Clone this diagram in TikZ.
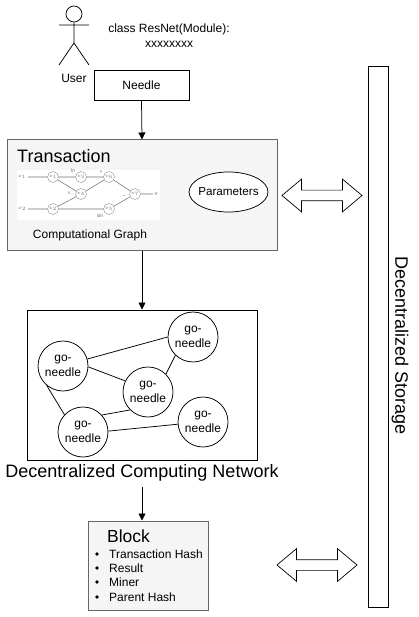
\documentclass[tikz,border=0pt]{standalone}
\usepackage{fontspec}
\setmainfont{Liberation Sans}
\usetikzlibrary{shapes.geometric,shapes.arrows,arrows.meta}
\tikzset{
 line/.style={draw=black,line width=0.75pt},
 flow/.style={line,-{Triangle[length=7pt,width=7pt]}},
 peer/.style={circle,draw=black,line width=0.75pt,minimum size=50pt,inner sep=0pt,align=center,font=\fontsize{12}{14.5}\selectfont},
 lab/.style={inner sep=0pt,align=center,font=\fontsize{12}{14.5}\selectfont},
 grey/.style={draw=black!60,fill=black!4,line width=1pt,inner sep=0pt},
 dbl/.style={draw=black,fill=white,line width=0.7pt,double arrow,double arrow head extend=11pt,double arrow tip angle=80,minimum height=80pt,inner xsep=0pt,inner ysep=5pt},
 gn/.style={circle,draw=black!45,line width=0.4pt,minimum size=11pt,inner sep=0pt,font=\fontsize{5}{5}\selectfont,text=black!60},
 ge/.style={draw=black!55,line width=0.55pt},
 gl/.style={inner sep=0pt,font=\fontsize{5}{5}\selectfont,text=black!60},
}
\begin{document}
\begin{tikzpicture}[x=1pt,y=-1pt]
\useasboundingbox (0,0) rectangle (418,617);
% user
\coordinate (hip) at (74,43);
\node (head) [circle,draw=black,line width=0.75pt,minimum size=16pt,inner sep=0pt] at (74,14) {};
\coordinate (armL) at (59,25); \coordinate (armR) at (89,25);
\coordinate (legL) at (59,65); \coordinate (legR) at (89,65);
\draw[line] (head.south) -- (hip) -- (legL) (hip) -- (legR) (armL) -- (armR);
\node[lab] (user) at (74,78) {User};
\node[lab] (code) at (169,35.5) {class ResNet(Module):\\xxxxxxxx};
\node[draw=black,line width=0.8pt,minimum width=95pt,minimum height=30pt,inner sep=0pt,font=\fontsize{12}{14}\selectfont] (needle) at (141.5,85) {Needle};
% transaction
\node[grey,minimum width=270pt,minimum height=110pt] (tx) at (142,195) {};
\node[inner sep=0pt,anchor=west,font=\fontsize{18}{22}\selectfont] (txl) at (17,156) {Transaction};
\node[fill=white,minimum width=143pt,minimum height=50pt,inner sep=0pt] (img) at (88.5,195) {};
\node[gn] (v1) at (53,177) {$v_1$};
\node[gn] (v3) at (81,177) {$v_3$};
\node[gn] (v6) at (109,177) {$v_6$};
\node[gn] (v4) at (81,194) {$v_4$};
\node[gn] (v2) at (53,209) {$v_2$};
\node[gn] (v5) at (109,209) {$v_5$};
\node[gn] (v7) at (135,194) {$v_7$};
\coordinate (x1) at (28,177); \coordinate (x2) at (28,209); \coordinate (yy) at (153,194);
\node[gl] (lx1) at (22,177) {$x_1$};
\node[gl] (lx2) at (22,209) {$x_2$};
\node[gl] (ly) at (156,194) {$y$};
\node[gl] (lln) at (73,171) {ln};
\node[gl] (lp) at (101,172) {+};
\node[gl] (lm) at (69,193) {$\times$};
\node[gl] (lmi) at (124,196) {$-$};
\node[gl] (lsin) at (100,215.5) {sin};
\draw[ge] (x1)--(v1) (x2)--(v2) (v1)--(v3) (v3)--(v6) (v1)--(v4) (v2)--(v4) (v4)--(v6) (v2)--(v5) (v6)--(v7) (v5)--(v7) (v7)--(yy);
\node[lab] (cg) at (90,235) {Computational Graph};
\node[ellipse,draw=black,line width=0.75pt,fill=white,minimum width=79pt,minimum height=40pt,inner sep=-10pt,font=\fontsize{11.7}{14}\selectfont] (par) at (228.5,192) {Parameters};
% network
\node[draw=black,line width=1pt,minimum width=230pt,minimum height=150pt,inner sep=0pt] (net) at (142,385) {};
\node[peer] (A) at (63,366) {go-\\needle};
\node[peer] (B) at (193,337) {go-\\needle};
\node[peer] (C) at (148,392) {go-\\needle};
\node[peer] (D) at (83,432) {go-\\needle};
\node[peer] (E) at (203,422) {go-\\needle};
\draw[line] (A.16)--(B.180) (A.-2)--(C.154) (B.226)--(C.45) (A.230)--(D.137) (D.42)--(C.225) (D.2)--(E.185);
\node[inner sep=0pt,font=\fontsize{18}{22}\selectfont] (netl) at (142,473) {Decentralized Computing Network};
% block
\node[grey,minimum width=120pt,minimum height=89pt] (blk) at (148,565.5) {};
\node[inner sep=0pt,font=\fontsize{17.5}{20}\selectfont] (blkl) at (128.5,536) {Block};
\foreach \n/\y/\t in {a/554/Transaction Hash,b/568/Result,c/582/Miner,d/597/Parent Hash}{
 \node[inner sep=0pt,anchor=west,font=\fontsize{12}{14}\selectfont] (t\n) at (109,\y) {\t};
 \fill (97,\y) circle (1.8pt);
}
% arrows
\draw[flow] (needle.south) -- (tx.north);
\draw[flow] (tx.south) -- (net.north);
\coordinate (n1) at (142,487);
\draw[flow] (n1) -- (142,520.5);
% storage
\node[draw=black,line width=1pt,minimum width=20pt,minimum height=540pt,inner sep=0pt] (st) at (378,337) {};
\node[rotate=-90,inner sep=0pt,font=\fontsize{18}{22}\selectfont] (stl) at (400,346) {Decentralized Storage};
\node[dbl] (d1) at (322,195.5) {};
\node[dbl] (d2) at (317,565) {};
\end{tikzpicture}
\end{document}
